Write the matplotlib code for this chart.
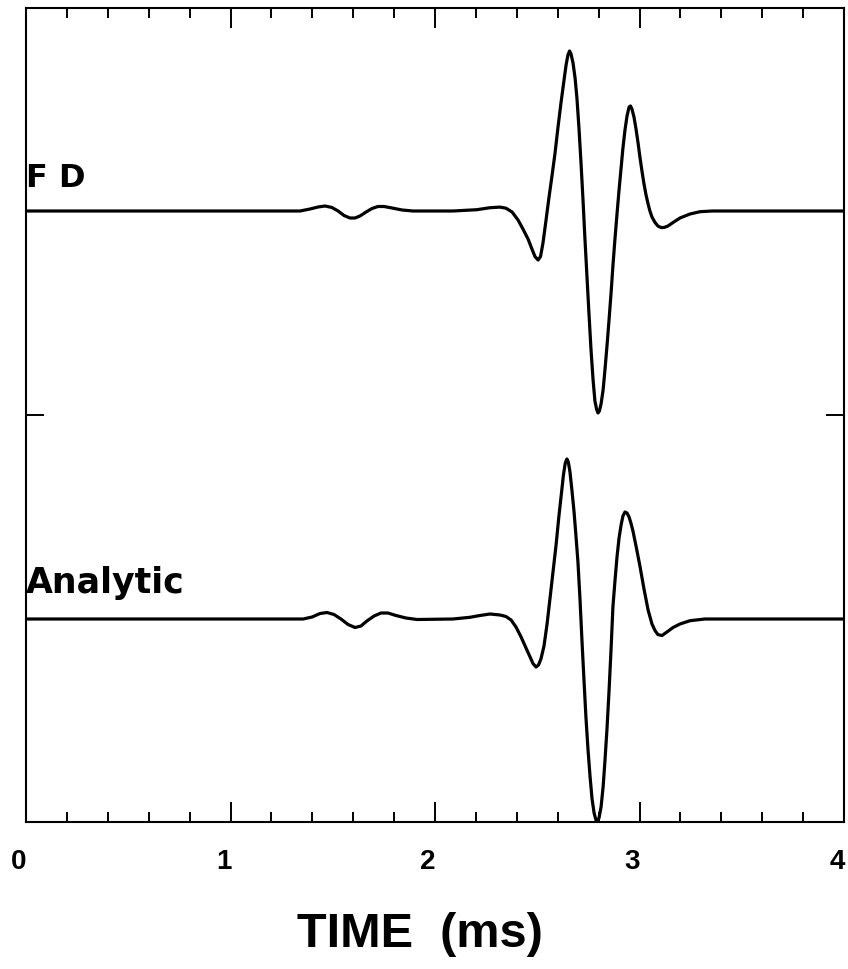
import matplotlib
matplotlib.use('Agg')
import matplotlib.pyplot as plt
import matplotlib.transforms as mtransforms
from matplotlib.ticker import MultipleLocator

plt.rcParams['font.family'] = ['Liberation Sans', 'DejaVu Sans']

# time (ms) and amplitude (deep trough ~ -1)
fd_time = [0.0, 1.340, 1.389, 1.428, 1.462, 1.496, 1.526, 1.555, 1.584, 1.609,
           1.633, 1.663, 1.692, 1.721, 1.751, 1.790, 1.839, 1.892, 2.088, 2.205,
           2.269, 2.318, 2.347, 2.377, 2.406, 2.430, 2.455, 2.474, 2.489, 2.504,
           2.516, 2.528, 2.543, 2.557, 2.572, 2.587, 2.601, 2.616, 2.631, 2.641,
           2.650, 2.658, 2.665, 2.675, 2.685, 2.694, 2.704, 2.714, 2.724, 2.733,
           2.743, 2.753, 2.763, 2.773, 2.782, 2.790, 2.797, 2.804, 2.812, 2.822,
           2.831, 2.841, 2.851, 2.861, 2.870, 2.880, 2.890, 2.900, 2.910, 2.919,
           2.929, 2.939, 2.949, 2.956, 2.963, 2.973, 2.983, 2.993, 3.002, 3.012,
           3.022, 3.032, 3.042, 3.051, 3.061, 3.076, 3.090, 3.105, 3.120, 3.139,
           3.164, 3.198, 3.247, 3.296, 3.355, 4.0]
fd_amp = [0.0, 0.0, 0.01, 0.02, 0.025, 0.0175, 0.0, -0.0225, -0.035, -0.035,
          -0.025, -0.005, 0.0125, 0.0225, 0.0225, 0.015, 0.005, 0.0, 0.0, 0.0065,
          0.0165, 0.0195, 0.014, -0.005, -0.045, -0.09, -0.14, -0.19, -0.228, -0.245,
          -0.228, -0.16, -0.045, 0.065, 0.175, 0.29, 0.415, 0.54, 0.655, 0.73,
          0.78, 0.80, 0.785, 0.74, 0.665, 0.565, 0.415, 0.24, 0.05, -0.135,
          -0.325, -0.515, -0.695, -0.845, -0.95, -0.99, -1.01, -1.0, -0.965, -0.895,
          -0.795, -0.675, -0.545, -0.41, -0.275, -0.14, -0.015, 0.105, 0.215, 0.315,
          0.405, 0.475, 0.52, 0.525, 0.51, 0.47, 0.41, 0.34, 0.27, 0.2,
          0.135, 0.08, 0.035, 0.0, -0.03, -0.0575, -0.075, -0.0825, -0.0825, -0.075,
          -0.0575, -0.035, -0.015, -0.0035, 0.0, 0.0]

an_time = [0.0, 1.355, 1.399, 1.438, 1.472, 1.506, 1.540, 1.575, 1.609, 1.638,
           1.667, 1.702, 1.736, 1.770, 1.809, 1.858, 1.912, 2.088, 2.171, 2.220,
           2.269, 2.318, 2.347, 2.372, 2.396, 2.421, 2.445, 2.465, 2.479, 2.494,
           2.506, 2.518, 2.533, 2.548, 2.562, 2.577, 2.592, 2.606, 2.619, 2.628,
           2.637, 2.645, 2.652, 2.660, 2.670, 2.680, 2.689, 2.699, 2.709, 2.719,
           2.729, 2.738, 2.748, 2.758, 2.768, 2.778, 2.787, 2.795, 2.802, 2.812,
           2.822, 2.831, 2.841, 2.851, 2.861, 2.870, 2.880, 2.890, 2.900, 2.910,
           2.919, 2.929, 2.939, 2.949, 2.958, 2.968, 2.983, 3.002, 3.022, 3.042,
           3.061, 3.076, 3.090, 3.110, 3.134, 3.164, 3.198, 3.247, 3.320, 4.0]
an_amp = [0.0, 0.0, 0.01, 0.0275, 0.0325, 0.0225, 0.0, -0.0275, -0.0425, -0.035,
          -0.01, 0.015, 0.03, 0.03, 0.0175, 0.005, -0.0025, 0.0, 0.0085, 0.0175,
          0.025, 0.02, 0.0125, -0.005, -0.04, -0.09, -0.145, -0.19, -0.2225, -0.24,
          -0.23, -0.20, -0.135, -0.025, 0.10, 0.235, 0.37, 0.515, 0.635, 0.72,
          0.78, 0.80, 0.785, 0.735, 0.64, 0.535, 0.42, 0.285, 0.10, -0.115,
          -0.315, -0.49, -0.65, -0.785, -0.90, -0.97, -1.005, -1.01, -0.995, -0.94,
          -0.84, -0.71, -0.55, -0.36, -0.15, 0.06, 0.19, 0.31, 0.405, 0.47,
          0.515, 0.535, 0.53, 0.51, 0.48, 0.44, 0.365, 0.265, 0.15, 0.045,
          -0.025, -0.058, -0.078, -0.0825, -0.065, -0.0425, -0.025, -0.0085, 0.0, 0.0]

fd_offset = 1.02
an_offset = -1.02

fig = plt.figure(figsize=(8.48, 9.70), dpi=100)
ax = fig.add_axes([26 / 848, 147 / 970, 818 / 848, 814 / 970])

ax.plot(fd_time, [a + fd_offset for a in fd_amp], color='black', lw=2.3,
        solid_joinstyle='round')
ax.plot(an_time, [a + an_offset for a in an_amp], color='black', lw=2.3,
        solid_joinstyle='round')

ax.set_xlim(0, 4)
ax.set_ylim(-2.035, 2.035)

ax.xaxis.set_major_locator(MultipleLocator(1))
ax.xaxis.set_minor_locator(MultipleLocator(0.2))
ax.set_yticks([0])
ax.set_yticklabels([])
ax.tick_params(axis='x', which='major', direction='in', top=True, bottom=True,
               length=14.5, width=1.4, pad=19, labelsize=20)
ax.tick_params(axis='x', which='minor', direction='in', top=True, bottom=True,
               length=7.2, width=1.4)
ax.tick_params(axis='y', which='major', direction='in', left=True, right=True,
               length=13, width=1.4)
shift = mtransforms.ScaledTranslation(-0.07, 0, fig.dpi_scale_trans)
for lab in ax.get_xticklabels():
    lab.set_fontweight('bold')
    lab.set_transform(lab.get_transform() + shift)

for sp in ax.spines.values():
    sp.set_linewidth(1.5)

fig.text(420 / 848, 1 - 935 / 970, 'TIME  (ms)', fontsize=35, fontweight='bold',
         ha='center', va='center')

ax.text(0.0, 1.145, 'F D', fontsize=23, fontweight='bold', family='DejaVu Sans',
        ha='left', va='baseline')
ax.text(0.0, -0.885, 'Analytic', fontsize=25, fontweight='bold', family='DejaVu Sans',
        ha='left', va='baseline')

fig.savefig('out.png', dpi=100)
